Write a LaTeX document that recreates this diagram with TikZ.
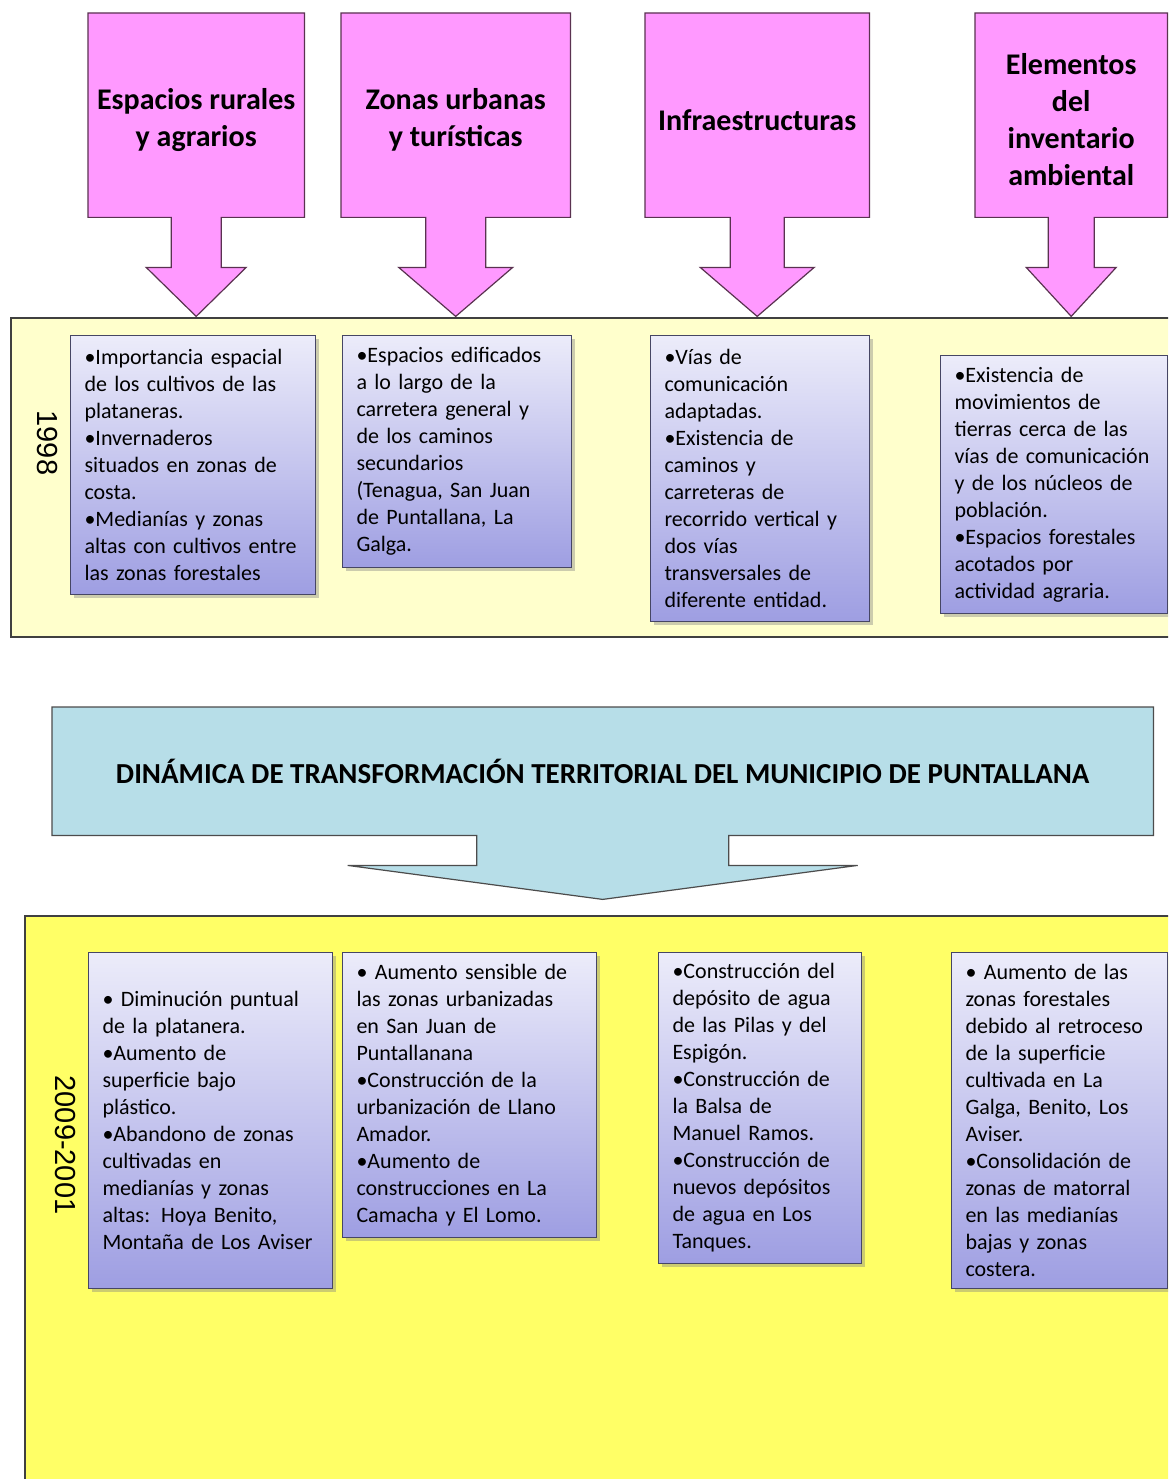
\documentclass[tikz,border=0pt]{standalone}
\usepackage{fontspec}
\setmainfont{Carlito}
\newfontfamily\yearfont{Liberation Sans}
\usepackage{xcolor}
\usepackage{tikz}
\usetikzlibrary{shapes,positioning,shadows,backgrounds}

\definecolor{headpink}{RGB}{255,153,255}
\definecolor{headline}{RGB}{90,50,80}
\definecolor{paleband}{RGB}{255,255,204}
\definecolor{brightband}{RGB}{255,255,102}
\definecolor{titleteal}{RGB}{183,222,232}
\definecolor{notetop}{RGB}{236,236,250}
\definecolor{notebottom}{RGB}{158,158,226}
\definecolor{noteline}{RGB}{70,70,100}

\newcommand{\headlift}{\rule{0pt}{30pt}}

\tikzstyle{head}=  [anchor=north west,
inner sep=0,
minimum height=204pt,
align=center,
font=\fontsize{30}{37}\selectfont\bfseries,
]
\tikzstyle{callout}=[draw=headline,
fill=headpink,
line width=1.2pt,
]
\tikzstyle{band}=  [draw=black!75,
rectangle,
anchor=north west,
inner sep=0,
line width=1.5pt,
]
\tikzstyle{note}=  [draw=noteline,
rectangle,
anchor=north west,
top color=notetop,
bottom color=notebottom,
line width=1pt,
inner xsep=14pt,
inner ysep=0pt,
align=left,
font=\fontsize{22}{27}\selectfont,
drop shadow={shadow xshift=3pt,shadow yshift=-3pt,opacity=0.4},
]
\tikzstyle{year}=  [rotate=-90,
font=\yearfont\fontsize{29}{32}\selectfont,
]

\begin{document}
\begin{tikzpicture}[x=1pt,y=-1pt]
        \useasboundingbox (0,0) rectangle (1168,1479);
        \clip (0,0) rectangle (1168,1479);

        % bands
        \node[band, fill=paleband, minimum width=1200pt, minimum height=319pt] (band98) at (10,317) {};
        \node[band, fill=brightband, minimum width=1200pt, minimum height=620pt] (band09) at (24,915) {};
        \node[year] (year98) at (47,443) {1998};
        \node[year] (year09) at (65,1145) {2009-2001};

        % headers
        \node[head, minimum width=216pt] (rural) at (88,13) {\headlift Espacios rurales\\y agrarios};
        \node[head, minimum width=229pt] (urban) at (341,13) {\headlift Zonas urbanas\\y turísticas};
        \node[head, minimum width=224pt] (infra) at (645,13) {\headlift Infraestructuras};
        \node[head, minimum width=192pt] (envir) at (975,13) {\headlift Elementos\\del\\inventario\\ambiental};

        % 1998
        \node[note, minimum width=245pt, minimum height=259pt, text width=217pt] (rural98) at (70,335)
        {•Importancia espacial\\de los cultivos  de las\\plataneras.\\•Invernaderos\\situados en zonas de\\costa.\\•Medianías y zonas\\altas con cultivos entre\\las zonas forestales};
        \node[note, minimum width=229pt, minimum height=232pt, text width=201pt] (urban98) at (342,335)
        {•Espacios edificados\\a lo largo de la\\carretera general y\\de los caminos\\secundarios\\(Tenagua, San Juan\\de Puntallana, La\\Galga.};
        \node[note, minimum width=219pt, minimum height=286pt, text width=191pt] (infra98) at (650,335)
        {•Vías de\\comunicación\\adaptadas.\\•Existencia de\\caminos y\\carreteras de\\recorrido vertical y\\dos vías\\transversales de\\diferente entidad.};
        \node[note, minimum width=227pt, minimum height=258pt, text width=199pt] (envir98) at (940,355)
        {•Existencia de\\movimientos de\\tierras cerca de las\\vías de comunicación\\y de los núcleos de\\población.\\•Espacios forestales\\acotados por\\actividad agraria.};

        % title
        \node[anchor=north west, inner sep=0, minimum width=1101pt, minimum height=128pt,
        font=\fontsize{29}{34}\selectfont\bfseries] (title) at (52,707)
        {DINÁMICA DE TRANSFORMACIÓN TERRITORIAL DEL MUNICIPIO DE PUNTALLANA};

        % 2009-2001
        \node[note, minimum width=244pt, minimum height=336pt, text width=216pt] (rural09) at (88,952)
        {• Diminución puntual\\de la platanera.\\•Aumento de\\superficie bajo\\plástico.\\•Abandono de zonas\\cultivadas en\\medianías y zonas\\altas: Hoya Benito,\\Montaña de Los Aviser};
        \node[note, minimum width=254pt, minimum height=285pt, text width=226pt] (urban09) at (342,952)
        {• Aumento sensible de\\las zonas urbanizadas\\en San Juan de\\Puntallanana\\•Construcción de la\\urbanización de Llano\\Amador.\\•Aumento de\\construcciones en La\\Camacha y El Lomo.};
        \node[note, minimum width=203pt, minimum height=311pt, text width=175pt] (infra09) at (658,952)
        {•Construcción del\\depósito de agua\\de las Pilas y del\\Espigón.\\•Construcción de\\la Balsa de\\Manuel Ramos.\\•Construcción de\\nuevos depósitos\\de agua en Los\\Tanques.};
        \node[note, minimum width=216pt, minimum height=336pt, text width=188pt] (envir09) at (951,952)
        {• Aumento de las\\zonas forestales\\debido al retroceso\\de la superficie\\cultivada en La\\Galga, Benito, Los\\Aviser.\\•Consolidación de\\zonas de matorral\\en las medianías\\bajas y zonas\\costera.};

        \begin{scope}[on background layer]
        \fill[white] (0,0) rectangle (1168,1479);
        \foreach \h/\s/\w in {rural/25/50,urban/30/57,infra/27/57,envir/23/45}
        \draw[callout] (\h.north west) -- (\h.north east) -- (\h.south east)
        -- ([xshift=\s pt]\h.south) -- ([xshift=\s pt,yshift=-50pt]\h.south)
        -- ([xshift=\w pt,yshift=-50pt]\h.south) -- ([yshift=-99pt]\h.south)
        -- ([xshift=-\w pt,yshift=-50pt]\h.south) -- ([xshift=-\s pt,yshift=-50pt]\h.south)
        -- ([xshift=-\s pt]\h.south) -- (\h.south west) -- cycle;
        \draw[callout, draw=black!70, fill=titleteal] (title.north west) -- (title.north east) -- (title.south east)
        -- ([xshift=126pt]title.south) -- ([xshift=126pt,yshift=-30pt]title.south)
        -- ([xshift=255pt,yshift=-30pt]title.south) -- ([yshift=-64pt]title.south)
        -- ([xshift=-255pt,yshift=-30pt]title.south) -- ([xshift=-126pt,yshift=-30pt]title.south)
        -- ([xshift=-126pt]title.south) -- (title.south west) -- cycle;
        \end{scope}
    \end{tikzpicture}
\end{document}
